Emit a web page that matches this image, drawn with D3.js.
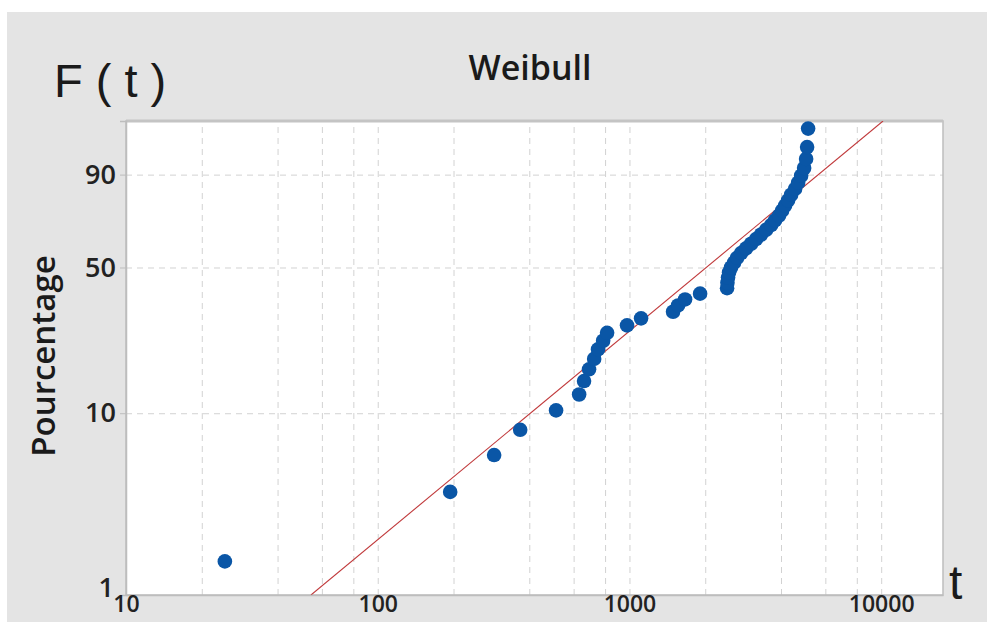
<!DOCTYPE html>
<html>
<head>
<meta charset="utf-8">
<script src="https://cdn.jsdelivr.net/npm/d3@7"></script>
<style>
  html, body { margin: 0; padding: 0; background: #ffffff; }
  svg { display: block; }
</style>
</head>
<body>
<svg id="chart" width="987" height="622"></svg>
<script>
// Failure times (t) and their plotting positions (median ranks, %)
const times = [24.7, 194, 290, 368, 511, 631, 660, 691, 724, 750, 786, 815,
  978, 1112, 1490, 1560, 1663, 1908, 2442, 2450, 2464, 2487, 2533, 2603,
  2676, 2776, 2906, 3042, 3184, 3334, 3490, 3653, 3788, 3930, 4039, 4152,
  4268, 4387, 4550, 4677, 4807, 4941, 5032, 5078, 5125];
const percents = [1.54, 3.74, 5.95, 8.15, 10.35, 12.56, 14.76, 16.96, 19.16,
  21.37, 23.57, 25.77, 27.97, 30.18, 32.38, 34.58, 36.78, 38.99, 41.19, 43.39,
  45.59, 47.80, 50.00, 52.20, 54.41, 56.61, 58.81, 61.01, 63.22, 65.42, 67.62,
  69.82, 72.03, 74.23, 76.43, 78.63, 80.84, 83.04, 85.24, 87.44, 89.65, 91.85,
  94.05, 96.26, 98.46];

// Fitted Weibull distribution
const fitShape = 1.171;
const fitScale = 2760;

// Axis ticks and grid
const yTickLabels = [1, 10, 50, 90];
const yGridPercents = [10, 50, 90];
const xTickLabels = [10, 100, 1000, 10000];
const xGridValues = [20, 40, 60, 80, 100, 200, 400, 600, 800, 1000, 2000, 4000, 6000, 8000, 10000];
const yRangePercent = [1, 99];
const xRange = [10, 17600];

// Weibull probability transform: ln(-ln(1 - F))
const wb = p => Math.log(-Math.log(1 - p / 100));

const svg = d3.select("#chart");
const plot = { left: 126, right: 943, top: 121, bottom: 595 };
const labelFont = "'Open Sans', 'Noto Sans', sans-serif";

// Grey panel behind the chart
svg.append("rect").attr("x", 7).attr("y", 12).attr("width", 980).attr("height", 610)
  .attr("fill", "#e4e4e4");

const x = d3.scaleLog().domain(xRange).range([plot.left, plot.right]);
const y = d3.scaleLinear().domain(yRangePercent.map(wb)).range([plot.bottom, plot.top]);

svg.append("rect")
  .attr("x", plot.left).attr("y", plot.top)
  .attr("width", plot.right - plot.left).attr("height", plot.bottom - plot.top)
  .attr("fill", "#ffffff");

// Vertical grid lines
svg.append("g")
  .attr("transform", `translate(0,${plot.bottom})`)
  .call(d3.axisBottom(x).tickValues(xGridValues).tickSize(-(plot.bottom - plot.top)).tickFormat(""))
  .call(g => g.select(".domain").remove())
  .call(g => g.selectAll("line").attr("stroke", "#d2d2d2").attr("stroke-width", 1)
    .attr("stroke-dasharray", "6,5"));

// Horizontal grid lines
svg.append("g")
  .attr("transform", `translate(${plot.left},0)`)
  .call(d3.axisLeft(y).tickValues(yGridPercents.map(wb)).tickSize(-(plot.right - plot.left)).tickFormat(""))
  .call(g => g.select(".domain").remove())
  .call(g => g.selectAll("line").attr("stroke", "#d2d2d2").attr("stroke-width", 1)
    .attr("stroke-dasharray", "6,5"));

// Plot frame
svg.append("rect")
  .attr("x", plot.left).attr("y", plot.top)
  .attr("width", plot.right - plot.left).attr("height", plot.bottom - plot.top)
  .attr("fill", "none").attr("stroke", "#bdbdbd").attr("stroke-width", 1.5);
svg.append("line")
  .attr("x1", plot.left).attr("x2", plot.right).attr("y1", plot.top).attr("y2", plot.top)
  .attr("stroke", "#c4c4c4").attr("stroke-width", 3);

// Clip region for the fitted line
svg.append("clipPath").attr("id", "clip").append("rect")
  .attr("x", plot.left).attr("y", plot.top)
  .attr("width", plot.right - plot.left).attr("height", plot.bottom - plot.top);

// Fitted line between the 1% and 99% quantiles
const fitPoints = yRangePercent.map(p => ({
  t: fitScale * Math.pow(-Math.log(1 - p / 100), 1 / fitShape), p
}));
svg.append("path")
  .datum(fitPoints)
  .attr("clip-path", "url(#clip)")
  .attr("fill", "none")
  .attr("stroke", "#c0393b")
  .attr("stroke-width", 1.1)
  .attr("d", d3.line().x(d => x(d.t)).y(d => y(wb(d.p))));

// Data points
const pts = times.map((t, i) => ({ t, p: percents[i] }));
svg.append("g").selectAll("circle")
  .data(pts).join("circle")
  .attr("cx", d => x(d.t))
  .attr("cy", d => y(wb(d.p)))
  .attr("r", 7.3)
  .attr("fill", "#0a56a6");

// Y axis
const yAxis = svg.append("g")
  .attr("transform", `translate(${plot.left},0)`)
  .call(d3.axisLeft(y).tickValues(yTickLabels.map(wb))
    .tickFormat((d, i) => yTickLabels[i]).tickSize(6).tickPadding(4));
yAxis.select(".domain").attr("stroke", "#bdbdbd").attr("stroke-width", 1.5);
yAxis.selectAll("line").attr("stroke", "#bdbdbd");
yAxis.selectAll("text")
  .attr("font-family", labelFont)
  .attr("font-weight", 600)
  .attr("font-size", 27)
  .attr("fill", "#222");
// the "1" label sits above the bottom corner, clear of the "10" below it
yAxis.selectAll(".tick").filter((d, i) => i === 0).select("text")
  .attr("dy", "0.05em").attr("x", -12);

// X axis
const xAxis = svg.append("g")
  .attr("transform", `translate(0,${plot.bottom})`)
  .call(d3.axisBottom(x).tickValues(xTickLabels).tickFormat(d3.format("d")).tickSize(0).tickPadding(1));
xAxis.select(".domain").attr("stroke", "#bdbdbd").attr("stroke-width", 1.5);
xAxis.selectAll("text")
  .attr("font-family", labelFont)
  .attr("font-weight", 600)
  .attr("font-size", 23)
  .attr("fill", "#222");

// Titles
svg.append("text")
  .attr("x", 530).attr("y", 80)
  .attr("text-anchor", "middle")
  .attr("font-family", labelFont)
  .attr("font-weight", 600)
  .attr("font-size", 34)
  .attr("fill", "#1a1a1a")
  .text("Weibull");

svg.append("text")
  .attr("x", 54).attr("y", 97)
  .attr("font-family", "'Liberation Sans', Arial, sans-serif")
  .attr("font-size", 47)
  .attr("fill", "#1a1a1a")
  .attr("xml:space", "preserve")
  .text("F ( t )");

svg.append("text")
  .attr("x", 949).attr("y", 599)
  .attr("font-family", "'Liberation Sans', Arial, sans-serif")
  .attr("font-size", 48)
  .attr("fill", "#1a1a1a")
  .text("t");

svg.append("text")
  .attr("transform", "translate(55,356) rotate(-90)")
  .attr("text-anchor", "middle")
  .attr("font-family", labelFont)
  .attr("font-weight", 600)
  .attr("font-size", 33)
  .attr("fill", "#1a1a1a")
  .text("Pourcentage");
</script>
</body>
</html>
